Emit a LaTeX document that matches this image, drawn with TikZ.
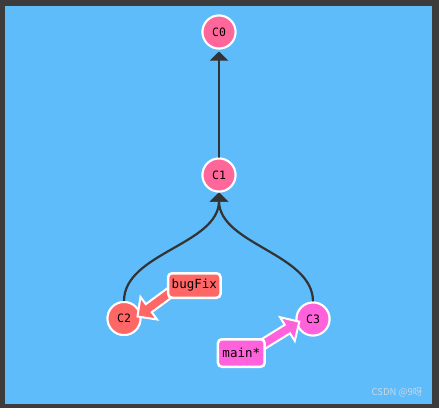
\documentclass[tikz,border=0pt]{standalone}
\usepackage{fontspec}
\setmonofont{DejaVu Sans Mono}
\newfontfamily\cjk{Noto Sans CJK SC}
\usetikzlibrary{arrows.meta,calc}
\definecolor{bgblue}{HTML}{5DBCF9}
\definecolor{frame}{HTML}{3C3C3C}
\definecolor{commitpink}{HTML}{FF6699}
\definecolor{bugred}{HTML}{FF6666}
\definecolor{mainpink}{HTML}{FF62DA}
\definecolor{linegray}{HTML}{333333}
\definecolor{wmgray}{HTML}{C8D8E6}
\tikzset{
  commit/.style={circle, draw=white, line width=2pt, minimum size=33pt, inner sep=0pt,
    font=\ttfamily\fontsize{11.5}{11.5}\selectfont, text=black},
  branchbox/.style={rectangle, rounded corners=4pt, draw=white, line width=2.5pt, inner sep=0pt,
    font=\ttfamily\fontsize{12.5}{12.5}\selectfont, text=black},
  conn/.style={draw=linegray, line width=2.2pt, -{Triangle[width=18pt,length=9pt]}},
  fatarrow/.style={draw=white, line width=2pt, line join=miter, miter limit=10},
}
\newcommand\fatarrow[3]{%
  \coordinate (hb) at ($(#2)!14pt!(#1)$);
  \path[fatarrow, fill=#3] (#2) -- ($(hb)!14pt!90:(#2)$) -- ($(hb)!5pt!90:(#2)$)
    -- ($(#1)!5pt!90:(hb)$) -- ($(#1)!5pt!-90:(hb)$) -- ($(hb)!5pt!-90:(#2)$)
    -- ($(hb)!14pt!-90:(#2)$) -- cycle;
}
\begin{document}
\begin{tikzpicture}[x=1pt,y=-1pt]
\useasboundingbox (0,0) rectangle (439,408);
\fill[frame] (0,0) rectangle (439,408);
\fill[bgblue] (5,6) rectangle (432,404);
% commits
\node[commit, fill=commitpink] (c0) at (219,32) {C0};
\node[commit, fill=commitpink] (c1) at (219,175) {C1};
\node[commit, fill=bugred] (c2) at (124,318.5) {C2};
\node[commit, fill=mainpink] (c3) at (313,319) {C3};
% connectors
\draw[conn, shorten >=2pt] (c1) -- (c0);
\draw[conn] (c2.north) .. controls +(0,-48) and +(0,52) .. (c1.south);
\draw[conn] (c3.north) .. controls +(0,-48) and +(0,52) .. (c1.south);
% redraw commits above connector ends
\node[commit, fill=commitpink] at (c0) {C0};
\node[commit, fill=commitpink] at (c1) {C1};
\node[commit, fill=bugred] at (c2) {C2};
\node[commit, fill=mainpink] at (c3) {C3};
% branch arrows
\coordinate (bft) at ($(c2)+(13.5,-2)$);
\coordinate (bfs) at ($(bft)+(40.3,-29.7)$);
\fatarrow{bfs}{bft}{bugred}
\coordinate (mnt) at ($(c3)+(-13.7,2.7)$);
\coordinate (mns) at ($(mnt)+(-42.5,26.3)$);
\fatarrow{mns}{mnt}{mainpink}
% branch labels
\node[branchbox, fill=bugred, minimum width=52.5pt, minimum height=24.5pt] (bugfix) at (194.3,285.5) {bugFix};
\node[branchbox, fill=mainpink, minimum width=46.8pt, minimum height=27.5pt] (main) at (241.3,353) {main*};
% watermark
\node[font=\cjk\fontsize{9.5}{9.5}\selectfont, text=wmgray, inner sep=0pt] (wm) at (397,393) {CSDN @9呀};
\end{tikzpicture}
\end{document}
